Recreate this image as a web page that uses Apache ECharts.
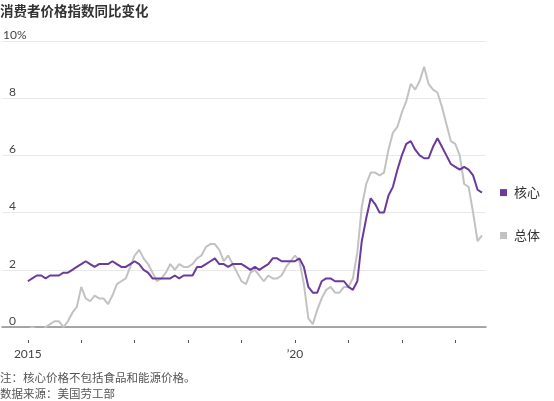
<!DOCTYPE html>
<html>
<head>
<meta charset="utf-8">
<script src="https://cdn.jsdelivr.net/npm/echarts@6/dist/echarts.min.js"></script>
<style>
  html, body { margin: 0; padding: 0; background: #fff; }
  #chart { width: 554px; height: 401px; }
</style>
</head>
<body>
<div id="chart"></div>
<script>
// monthly, Jan 2015 .. Jul 2023
var months = [];
for (var y = 2015; y <= 2023; y++) {
  for (var m = 1; m <= 12; m++) {
    if (y === 2023 && m > 7) break;
    months.push(y + '-' + (m < 10 ? '0' + m : m));
  }
}

// 总体 (all items), % y/y
var headline = [
  -0.1, 0.0, -0.1, -0.2, 0.0, 0.1, 0.2, 0.2, 0.0, 0.2, 0.5, 0.7,
  1.4, 1.0, 0.9, 1.1, 1.0, 1.0, 0.8, 1.1, 1.5, 1.6, 1.7, 2.1,
  2.5, 2.7, 2.4, 2.2, 1.9, 1.6, 1.7, 1.9, 2.2, 2.0, 2.2, 2.1,
  2.1, 2.2, 2.4, 2.5, 2.8, 2.9, 2.9, 2.7, 2.3, 2.5, 2.2, 1.9,
  1.6, 1.5, 1.9, 2.0, 1.8, 1.6, 1.8, 1.7, 1.7, 1.8, 2.1, 2.3,
  2.5, 2.3, 1.5, 0.3, 0.1, 0.6, 1.0, 1.3, 1.4, 1.2, 1.2, 1.4,
  1.4, 1.7, 2.6, 4.2, 5.0, 5.4, 5.4, 5.3, 5.4, 6.2, 6.8, 7.0,
  7.5, 7.9, 8.5, 8.3, 8.6, 9.1, 8.5, 8.3, 8.2, 7.7, 7.1, 6.5,
  6.4, 6.0, 5.0, 4.9, 4.0, 3.0, 3.2
];

// 核心 (ex food & energy), % y/y
var core = [
  1.6, 1.7, 1.8, 1.8, 1.7, 1.8, 1.8, 1.8, 1.9, 1.9, 2.0, 2.1,
  2.2, 2.3, 2.2, 2.1, 2.2, 2.2, 2.2, 2.3, 2.2, 2.1, 2.1, 2.2,
  2.3, 2.2, 2.0, 1.9, 1.7, 1.7, 1.7, 1.7, 1.7, 1.8, 1.7, 1.8,
  1.8, 1.8, 2.1, 2.1, 2.2, 2.3, 2.4, 2.2, 2.2, 2.1, 2.2, 2.2,
  2.2, 2.1, 2.0, 2.1, 2.0, 2.1, 2.2, 2.4, 2.4, 2.3, 2.3, 2.3,
  2.3, 2.4, 2.1, 1.4, 1.2, 1.2, 1.6, 1.7, 1.7, 1.6, 1.6, 1.6,
  1.4, 1.3, 1.6, 3.0, 3.8, 4.5, 4.3, 4.0, 4.0, 4.6, 4.9, 5.5,
  6.0, 6.4, 6.5, 6.2, 6.0, 5.9, 5.9, 6.3, 6.6, 6.3, 6.0, 5.7,
  5.6, 5.5, 5.6, 5.5, 5.3, 4.8, 4.7
];

var yTicks = [0, 2, 4, 6, 8, 10];
var yearTicks = [0, 12, 24, 36, 48, 60, 72, 84, 96];   // month index of each January
var xLabels = { 0: '2015', 60: '\u201920' };

var purple = '#6b3b9c';
var grey = '#c2c2c2';
var font = 'Lato, "Noto Sans CJK SC", sans-serif';

function pairs(arr) {
  return arr.map(function (v, i) { return [i, v]; });
}

function endLabel(name, color) {
  return {
    show: true,
    distance: 18,
    formatter: '{s|}{t|' + name + '}',
    rich: {
      s: { width: 7, height: 7, backgroundColor: color },
      t: { padding: [0, 0, 0, 7], fontSize: 13, color: '#333', fontFamily: font }
    }
  };
}

var chart = echarts.init(document.getElementById('chart'));

chart.setOption({
  animation: false,
  textStyle: { fontFamily: font },
  title: [
    { text: '消费者价格指数同比变化', left: -5, top: 0,
      textStyle: { fontSize: 13.5, fontWeight: 'bold', color: '#333', fontFamily: font } },
    { text: '注：核心价格不包括食品和能源价格。', left: -5, top: 368,
      textStyle: { fontSize: 11.5, fontWeight: 'normal', color: '#555', fontFamily: font } },
    { text: '数据来源：美国劳工部', left: -5, top: 384,
      textStyle: { fontSize: 11.5, fontWeight: 'normal', color: '#555', fontFamily: font } }
  ],
  grid: { left: 0, right: 68, top: 41, bottom: 74 },
  xAxis: [
    {
      type: 'value', min: -5.8, max: 102.9,
      axisLine: { show: true, lineStyle: { color: '#8c8c8c', width: 1.5 } },
      axisTick: { show: false },
      axisLabel: { show: false },
      splitLine: { show: false }
    },
    {
      type: 'value', min: -5.8, max: 102.9, position: 'bottom', offset: 13,
      axisLine: { show: false },
      axisTick: { show: true, customValues: yearTicks, length: 3, lineStyle: { color: '#555' } },
      axisLabel: {
        customValues: [0, 60], margin: 8, fontSize: 12, color: '#444',
        formatter: function (v) { return xLabels[v] || ''; }
      },
      splitLine: { show: false }
    }
  ],
  yAxis: {
    type: 'value', min: 0, max: 10, interval: 2,
    axisLine: { show: false },
    axisTick: { show: false },
    splitLine: { lineStyle: { color: '#e9e9e9', width: 1 } },
    axisLabel: {
      inside: true, margin: 0, verticalAlign: 'bottom',
      formatter: function (v) { return v === 10 ? '{p|10%}' : '{n|' + v + '}'; },
      rich: {
        p: { fontSize: 12, color: '#444', padding: [0, 0, 0, 1], fontFamily: font },
        n: { fontSize: 12, color: '#444', padding: [0, 0, 0, 7], fontFamily: font }
      }
    }
  },
  series: [
    {
      name: '总体', type: 'line', xAxisIndex: 0, data: pairs(headline),
      showSymbol: false, symbol: 'none',
      lineStyle: { color: grey, width: 2 }, itemStyle: { color: grey },
      endLabel: endLabel('总体', grey)
    },
    {
      name: '核心', type: 'line', xAxisIndex: 0, data: pairs(core),
      showSymbol: false, symbol: 'none',
      lineStyle: { color: purple, width: 2 }, itemStyle: { color: purple },
      endLabel: endLabel('核心', purple)
    }
  ]
});
</script>
</body>
</html>
